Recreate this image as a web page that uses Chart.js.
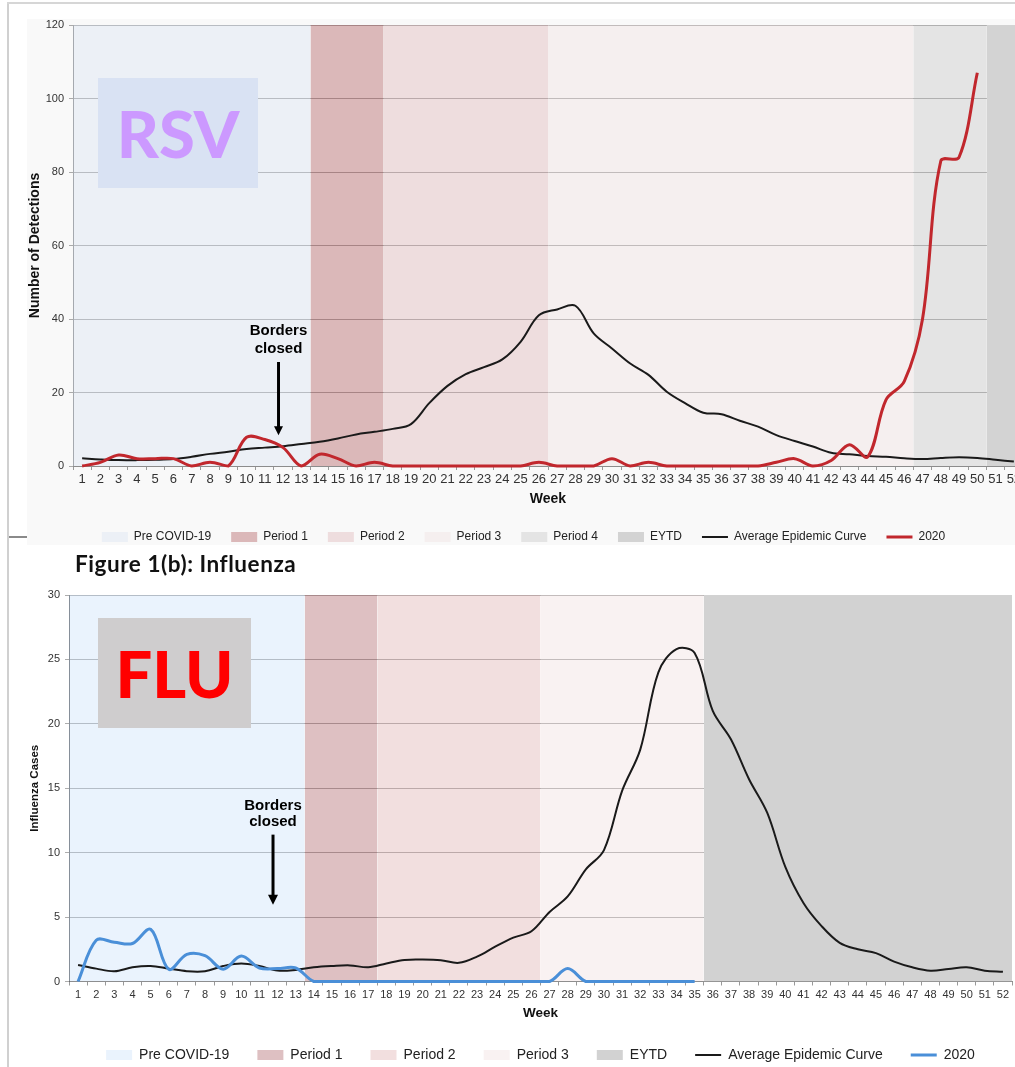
<!DOCTYPE html>
<html>
<head>
<meta charset="utf-8">
<script src="https://cdn.jsdelivr.net/npm/chart.js@4.4.0/dist/chart.umd.min.js"></script>
<style>
html,body{margin:0;padding:0;background:#fff;overflow:hidden;}
#wrap{position:relative;width:1015px;height:1067px;overflow:hidden;background:#fff;}
.bg1{position:absolute;left:27px;top:19px;width:988px;height:526px;background:#f9f9f9;}
canvas{position:absolute;left:0;}
#c1{top:0;}
#c2{top:548px;}
.frameL{position:absolute;left:7px;top:3px;width:2px;height:1064px;background:#d0d0d0;}
.frameT{position:absolute;left:7px;top:2px;width:1008px;height:2px;background:#d6d6d6;}
.sep{position:absolute;left:9px;top:536px;width:18px;height:2px;background:#8a8a8a;}
.tag{position:absolute;display:flex;align-items:center;justify-content:center;font-family:Lato,"Open Sans",sans-serif;font-weight:900;line-height:1;}
#rsv{left:98px;top:78px;width:160px;height:110px;background:#d9e2f3;color:#cc99ff;font-size:65px;}
#flu{left:98px;top:618px;width:153px;height:110px;background:#cfcdce;color:#ff0000;font-size:65px;}
#title2{position:absolute;left:75px;top:551px;font-family:Lato,"Open Sans",sans-serif;font-weight:bold;font-size:22.5px;letter-spacing:0.55px;line-height:26px;color:#111;white-space:nowrap;}
</style>
</head>
<body>
<div id="wrap">
  <div class="bg1"></div>
  <canvas id="c1" width="1030" height="553"></canvas>
  <canvas id="c2" width="1015" height="524"></canvas>
  <div class="frameL"></div><div class="frameT"></div><div class="sep"></div>
  <div id="rsv" class="tag">RSV</div>
  <div id="flu" class="tag">FLU</div>
  <div id="title2">Figure 1(b): Influenza</div>
</div>
<script>
// ---------------- DATA ----------------
const weeks = [1,2,3,4,5,6,7,8,9,10,11,12,13,14,15,16,17,18,19,20,21,22,23,24,25,26,
               27,28,29,30,31,32,33,34,35,36,37,38,39,40,41,42,43,44,45,46,47,48,49,50,51,52];

// Figure 1(a): RSV
const rsvAverage = [2.1,1.8,1.6,1.6,1.7,1.9,2.5,3.3,3.9,4.6,5.0,5.4,6.0,6.6,7.5,8.6,9.3,10.1,11.4,17.1,
                    21.8,25.0,26.9,29.0,33.8,41.0,42.6,43.6,36.1,32.0,27.9,24.8,20.2,17.1,14.5,14.1,12.3,10.7,8.4,6.8,
                    5.3,3.6,3.2,2.7,2.5,2.1,1.9,2.2,2.4,2.2,1.7,1.2];
const rsv2020 = [0,1,3,2,2,2,0,1,0,7.8,7.2,5,0,3.2,2,0,1,0,0,0,0,0,0,0,0,1,
                 0,0,0,2,0,1,0,0,0,0,0,0,1,2,0,1.5,5.8,2.5,18,23,40,83,84,107,null,null];
const rsvPeriodLabels = ['Pre COVID-19','Period 1','Period 2','Period 3','Period 4','EYTD'];
const rsvPeriodStart  = [1,14,18,27,47,51];
const rsvPeriodEnd    = [13,17,26,46,50,52];
const rsvYMax = 120;
const rsvYStep = 20;

// Figure 1(b): Influenza
const fluAverage = [1.28,1.0,0.8,1.1,1.2,1.0,0.8,0.8,1.2,1.4,1.2,0.85,0.9,1.1,1.2,1.25,1.1,1.4,1.67,1.7,
                    1.65,1.45,1.93,2.7,3.4,3.9,5.4,6.6,8.7,10.2,14.8,18.0,24.0,25.8,25.5,21.0,18.8,15.7,13.1,8.9,
                    6.1,4.3,3.0,2.5,2.2,1.54,1.1,0.84,0.97,1.1,0.84,0.76];
const flu2020 = [0,3.2,3.05,2.95,4.05,0.95,2.1,2.0,0.96,1.97,1.05,1.0,1.05,0,0,0,0,0,0,0,0,0,0,0,0,0,
                 0,1.0,0,0,0,0,0,0,0,null,null,null,null,null,null,null,null,null,null,null,null,null,null,null,null,null];
const fluPeriodLabels = ['Pre COVID-19','Period 1','Period 2','Period 3','EYTD'];
const fluPeriodStart  = [1,14,18,27,36];
const fluPeriodEnd    = [13,17,26,35,52];
const fluYMax = 30;
const fluYStep = 5;

// ---------------- STYLES ----------------
const F = '"Liberation Sans", Arial, sans-serif';
const rsvBandColors = ['rgba(212,223,241,0.35)','rgba(162,62,65,0.35)','rgba(218,169,172,0.35)',
                       'rgba(238,221,221,0.35)','rgba(189,189,189,0.35)','rgb(211,211,211)'];
const fluBandColors = ['rgba(196,220,248,0.35)','rgba(161,75,81,0.35)','rgba(218,163,163,0.35)',
                       'rgba(238,218,218,0.35)','rgb(210,210,210)'];

// each period is a filled band spanning its weeks (from half a week before its first week to half a week after its last)
function bandDatasets(labels, starts, ends, colors, yMax) {
  return labels.map((lab, i) => ({
    label: lab,
    data: [{x: starts[i] - 0.5, y: yMax}, {x: ends[i] + 0.5, y: yMax}],
    backgroundColor: colors[i],
    borderColor: 'transparent',
    borderWidth: 0,
    pointRadius: 0, pointHoverRadius: 0, pointBorderWidth: 0,
    pointBackgroundColor: colors[i],
    fill: 'origin',
    tension: 0,
    order: 1,
    pointStyle: 'rect'
  }));
}
function lineDataset(label, values, color, width, order) {
  return {
    label,
    data: weeks.map((w, i) => ({x: w, y: values[i]})),
    borderColor: color, backgroundColor: color,
    pointBorderColor: color, pointBackgroundColor: color, pointBorderWidth: width,
    borderWidth: width, pointRadius: 0, pointHoverRadius: 0,
    tension: 0.35, fill: false, order, pointStyle: 'line', clip: 4
  };
}

const arrowPlugin = {
  id: 'bordersArrow',
  afterDatasetsDraw(chart, args, o) {
    if (!o || !o.lines) return;
    const {ctx, scales: {x, y}} = chart;
    const px = x.getPixelForValue(o.week);
    const tip = y.getPixelForValue(o.tip);
    const top = y.getPixelForValue(o.top);
    ctx.save();
    ctx.strokeStyle = '#000'; ctx.fillStyle = '#000';
    ctx.lineWidth = 3;
    ctx.beginPath(); ctx.moveTo(px, top); ctx.lineTo(px, tip - o.head + 1); ctx.stroke();
    ctx.beginPath();
    ctx.moveTo(px - o.headW / 2, tip - o.head);
    ctx.lineTo(px + o.headW / 2, tip - o.head);
    ctx.lineTo(px, tip);
    ctx.closePath(); ctx.fill();
    ctx.font = 'bold ' + o.fontSize + 'px ' + F;
    ctx.textAlign = 'center'; ctx.textBaseline = 'middle';
    const n = o.lines.length;
    o.lines.forEach((t, i) => ctx.fillText(t, px, top - o.gap - (n - 1 - i) * o.lineH));
    ctx.restore();
  }
};

function makeChart(id, cfg) {
  const datasets = bandDatasets(cfg.periodLabels, cfg.periodStart, cfg.periodEnd, cfg.bandColors, cfg.yMax)
    .concat([lineDataset('Average Epidemic Curve', cfg.avg, '#1a1a1a', 2, 0),
             lineDataset('2020', cfg.cur, cfg.curColor, 3, -1)]);
  return new Chart(document.getElementById(id), {
    type: 'line',
    data: { datasets },
    plugins: [arrowPlugin],
    options: {
      responsive: false, animation: false, events: [],
      layout: { padding: cfg.padding },
      plugins: {
        tooltip: { enabled: false },
        legend: {
          position: 'bottom', fullSize: cfg.legendFull,
          labels: {
            usePointStyle: true, pointStyleWidth: 26, boxHeight: 10,
            padding: cfg.legendPad, color: '#222',
            font: { family: F, size: cfg.legendFont },
            sort: (a, b) => a.datasetIndex - b.datasetIndex
          }
        },
        bordersArrow: cfg.arrow
      },
      scales: {
        x: {
          type: 'linear',
          min: weeks[0] - 0.5, max: weeks[weeks.length - 1] + 0.5,
          afterBuildTicks(s) { s.ticks = weeks.map(w => ({ value: w })); },
          ticks: { autoSkip: false, maxRotation: 0, padding: cfg.xPad, color: '#333',
                   font: { family: F, size: cfg.xFont }, callback: v => String(v) },
          grid: { offset: true, drawOnChartArea: false, tickLength: 4, color: '#999' },
          border: { display: true, color: '#8c8c8c', width: 1 },
          title: { display: true, text: 'Week', color: '#111', font: { family: F, size: cfg.weekFont, weight: 'bold' }, padding: { top: 0, bottom: cfg.weekPad } },
          afterFit(s) { s.height = cfg.xHeight; }
        },
        y: {
          min: 0, max: cfg.yMax,
          ticks: { stepSize: cfg.yStep, padding: 5, color: '#333', font: { family: F, size: cfg.yFont } },
          grid: { color: 'rgba(105,105,105,0.55)', lineWidth: 1, tickLength: 4 },
          border: { display: true, color: cfg.yBorder, width: 1 },
          title: { display: true, text: cfg.yTitle, color: '#111', font: { family: F, size: cfg.yTitleFont, weight: 'bold' }, padding: { top: cfg.yTitlePad, bottom: 0 } },
          afterFit(s) { s.width = cfg.yWidth; }
        }
      }
    }
  });
}

makeChart('c1', {
  periodLabels: rsvPeriodLabels, periodStart: rsvPeriodStart, periodEnd: rsvPeriodEnd,
  bandColors: rsvBandColors, yMax: rsvYMax, yStep: rsvYStep,
  avg: rsvAverage, cur: rsv2020, curColor: '#c1272d',
  padding: { top: 25, left: 24, right: 7, bottom: 0 },
  legendFull: true, legendPad: 20, legendFont: 12,
  xPad: 2, xFont: 13, weekFont: 14, weekPad: 3.6, xHeight: 45,
  yFont: 11, yBorder: '#8c8c8c', yTitle: 'Number of Detections', yTitleFont: 14, yTitlePad: 2.6, yWidth: 49,
  arrow: { week: 11.75, tip: 8.4, top: 28.3, head: 9, headW: 9, lines: ['Borders', 'closed'], gap: 12.7, lineH: 18.3, fontSize: 15 }
});

makeChart('c2', {
  periodLabels: fluPeriodLabels, periodStart: fluPeriodStart, periodEnd: fluPeriodEnd,
  bandColors: fluBandColors, yMax: fluYMax, yStep: fluYStep,
  avg: fluAverage, cur: flu2020, curColor: '#4a8fd8',
  padding: { top: 47, left: 0, right: 3, bottom: 0 },
  legendFull: false, legendPad: 28, legendFont: 14,
  xPad: 3, xFont: 11, weekFont: 13.5, weekPad: -1, xHeight: 38.5,
  yFont: 11, yBorder: '#666', yTitle: 'Influenza Cases', yTitleFont: 11.5, yTitlePad: 28, yWidth: 69,
  arrow: { week: 11.75, tip: 5.95, top: 11.4, head: 10, headW: 10, lines: ['Borders', 'closed'], gap: 12.3, lineH: 16.7, fontSize: 15 }
});
</script>
</body>
</html>
